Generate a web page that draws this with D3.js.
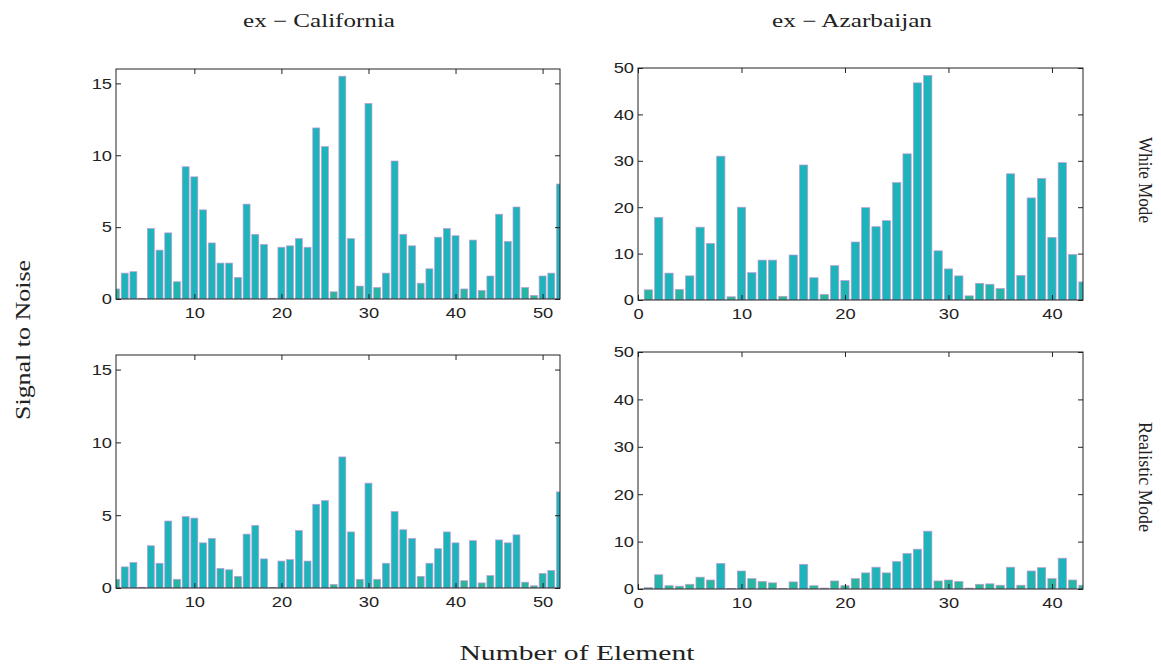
<!DOCTYPE html>
<html><head><meta charset="utf-8">
<script src="https://cdn.jsdelivr.net/npm/d3@7"></script>
<style>body{margin:0;background:#fff}</style>
</head><body><svg id="c" width="1161" height="666"></svg>
<script>
// ---- data ----
const calElements = d3.range(1, 53);
const azElements = d3.range(1, 44);
const calWhite = [0.7,1.8,1.9,0.05,4.9,3.4,4.6,1.2,9.2,8.5,6.2,3.9,2.5,2.5,1.5,6.6,4.5,3.8,0.05,3.6,3.7,4.2,3.6,11.9,10.6,0.5,15.5,4.2,0.9,13.6,0.8,1.8,9.6,4.5,3.7,1.1,2.1,4.3,4.9,4.4,0.7,4.1,0.6,1.6,5.9,4.0,6.4,0.8,0.25,1.6,1.8,8.0];
const calReal = [0.6,1.45,1.75,0.05,2.9,1.7,4.6,0.6,4.9,4.8,3.1,3.4,1.35,1.25,0.8,3.7,4.3,2.0,0.05,1.85,1.95,3.95,1.85,5.75,6.0,0.25,9.0,3.85,0.6,7.2,0.6,1.7,5.25,4.0,3.4,0.8,1.7,2.7,3.85,3.1,0.5,3.25,0.35,0.85,3.3,3.1,3.65,0.4,0.15,1.0,1.2,6.6];
const azWhite = [2.2,17.8,5.8,2.3,5.2,15.7,12.2,31,0.7,20,5.9,8.6,8.6,0.8,9.7,29.1,4.8,1.2,7.4,4.2,12.5,19.9,15.8,17.1,25.3,31.5,46.8,48.4,10.6,6.7,5.2,0.9,3.6,3.4,2.5,27.2,5.3,22,26.2,13.5,29.6,9.8,3.9];
const azReal = [0.3,3.0,0.7,0.6,1.0,2.5,1.9,5.4,0.1,3.8,2.2,1.6,1.3,0.1,1.5,5.2,0.7,0.2,1.7,0.7,2.2,3.4,4.6,3.4,5.8,7.5,8.4,12.2,1.7,1.9,1.6,0.2,1.0,1.1,0.8,4.6,0.8,3.8,4.5,2.2,6.5,1.9,0.8];
const calTicksX = [10,20,30,40,50];
const azTicksX = [0,10,20,30,40];
const calTicksY = [0,5,10,15];
const azTicksY = [0,10,20,30,40,50];
const columnTitles = ["ex \u2212 California", "ex \u2212 Azarbaijan"];
const rowTitles = ["White Mode", "Realistic Mode"];
const yLabel = "Signal to Noise";
const xLabel = "Number of Element";

// ---- layout ----
const svg = d3.select("#c");
const panels = [
  {id:"tl", el:calElements, v:calWhite, xd:[1,52], yd:[0,16], xt:calTicksX, yt:calTicksY, x0:116, x1:560, y0:69, y1:299},
  {id:"tr", el:azElements, v:azWhite, xd:[0,43], yd:[0,50], xt:azTicksX, yt:azTicksY, x0:638, x1:1083, y0:68, y1:300},
  {id:"bl", el:calElements, v:calReal, xd:[1,52], yd:[0,16], xt:calTicksX, yt:calTicksY, x0:116, x1:560, y0:355, y1:588},
  {id:"br", el:azElements, v:azReal, xd:[0,43], yd:[0,50], xt:azTicksX, yt:azTicksY, x0:638, x1:1083, y0:352, y1:589}
];
const teal = "#1db4bc", green = "#2db78e", edge = "#c39bd2";
const stretch = 1.22;

panels.forEach(p => {
  const x = d3.scaleLinear().domain(p.xd).range([p.x0, p.x1]);
  const y = d3.scaleLinear().domain(p.yd).range([p.y1, p.y0]);
  const col = d3.scaleLinear().domain([0, p.yd[1]*0.1]).range([green, teal]).clamp(true);
  const g = svg.append("g");
  svg.append("clipPath").attr("id","clip-"+p.id).append("rect")
    .attr("x",p.x0).attr("y",p.y0).attr("width",p.x1-p.x0).attr("height",p.y1-p.y0);
  g.append("g").attr("clip-path","url(#clip-"+p.id+")")
    .selectAll("rect").data(p.v).join("rect")
    .attr("x",(d,i)=>x(p.el[i]-0.4))
    .attr("width",(d,i)=>x(p.el[i]+0.4)-x(p.el[i]-0.4))
    .attr("y",d=>y(d))
    .attr("height",d=>y(0)-y(d))
    .attr("fill",d=>col(d))
    .attr("stroke",edge).attr("stroke-width",0.7);

  const fmt = d3.format("d");
  const ax = (axis, tr, labels) => {
    const a = g.append("g").attr("transform",tr).call(axis);
    a.select(".domain").remove();
    a.selectAll("line").attr("stroke","#222");
    if (!labels) a.selectAll("text").remove();
    else a.selectAll("text").attr("font-family","'Liberation Sans', Arial, sans-serif")
      .attr("font-size",15).attr("fill","#222")
      .each(function(){ const w=this.getComputedTextLength(); d3.select(this).attr("textLength",w*stretch).attr("lengthAdjust","spacingAndGlyphs"); });
    return a;
  };
  ax(d3.axisBottom(x).tickValues(p.xt).tickFormat(fmt).tickSize(-5).tickPadding(8), `translate(0,${p.y1})`, true);
  ax(d3.axisTop(x).tickValues(p.xt).tickSize(-5), `translate(0,${p.y0})`, false);
  ax(d3.axisLeft(y).tickValues(p.yt).tickFormat(fmt).tickSize(-5).tickPadding(4), `translate(${p.x0},0)`, true);
  ax(d3.axisRight(y).tickValues(p.yt).tickSize(-5), `translate(${p.x1},0)`, false);
  g.append("rect").attr("x",p.x0).attr("y",p.y0).attr("width",p.x1-p.x0).attr("height",p.y1-p.y0)
    .attr("fill","none").attr("stroke","#222").attr("stroke-width",1);
});

const serif = "'Liberation Serif', 'Times New Roman', serif";
const txt = (s, x, y, size, len, rot) => svg.append("text")
  .attr("transform",`translate(${x},${y})` + (rot ? ` rotate(${rot})` : ""))
  .attr("text-anchor","middle").attr("font-family",serif).attr("font-size",size)
  .attr("fill","#222").attr("textLength",len).attr("lengthAdjust","spacingAndGlyphs").text(s);
txt(columnTitles[0], 319, 27, 18, 152);
txt(columnTitles[1], 852, 27, 18, 160);
txt(rowTitles[0], 1139, 180, 19, 86, 90);
txt(rowTitles[1], 1139, 477, 19, 110, 90);
txt(yLabel, 30, 340, 21, 160, -90);
txt(xLabel, 577, 660, 20, 235);
</script></body></html>
